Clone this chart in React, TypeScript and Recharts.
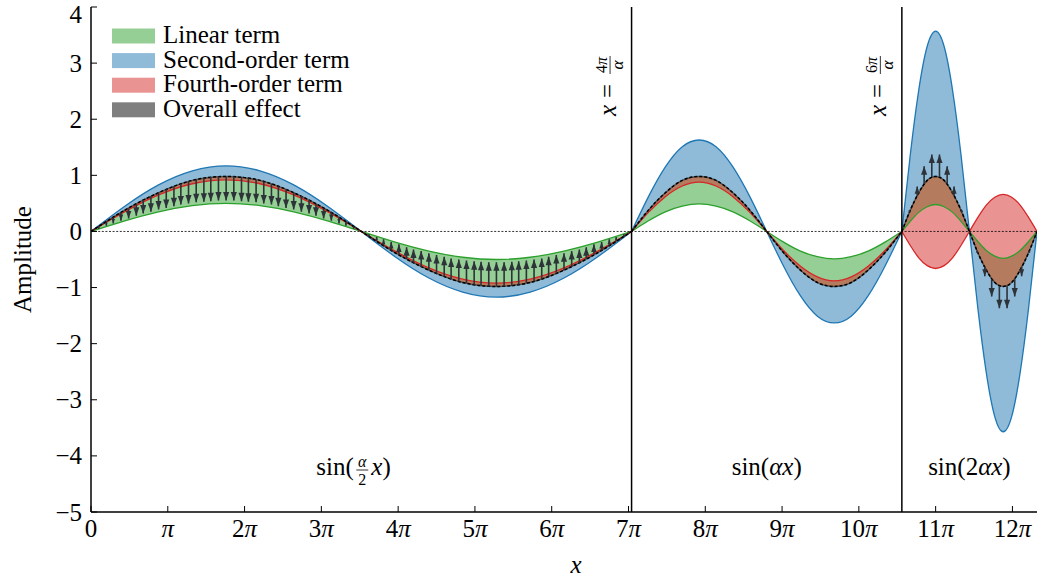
import React from 'react';
import {
  ComposedChart,
  Area,
  Line,
  XAxis,
  YAxis,
  ReferenceLine,
  ReferenceArea,
  Legend,
} from 'recharts';

const FONT = "'Liberation Serif', 'DejaVu Serif', serif";
const GREEN = '#2ca02c';
const BLUE = '#1f77b4';
const RED = '#d62728';
const ARROW = '#2d3339';

// all x values are in units of π
const xTicks = [0, 1, 2, 3, 4, 5, 6, 7, 8, 9, 10, 11, 12];
const yTicks = [-5, -4, -3, -2, -1, 0, 1, 2, 3, 4];
// 0, 4π/α, 6π/α, 7π/α
const segmentEdges = [0, 7.04, 10.56, 12.32];

// segment 1: sin(α/2 x)
const seg1X = [0, 0.44, 0.88, 1.32, 1.76, 2.2, 2.64, 3.08, 3.52, 3.96, 4.4, 4.84, 5.28, 5.72, 6.16, 6.6, 7.04];
const seg1Linear = [0, 0.19, 0.35, 0.46, 0.5, 0.46, 0.35, 0.19, 0, -0.19, -0.35, -0.46, -0.5, -0.46, -0.35, -0.19, 0];
const seg1Second = [0, 0.45, 0.83, 1.08, 1.17, 1.08, 0.83, 0.45, 0, -0.45, -0.83, -1.08, -1.17, -1.08, -0.83, -0.45, 0];
const seg1Fourth = [0, 0.35, 0.65, 0.85, 0.92, 0.85, 0.65, 0.35, 0, -0.35, -0.65, -0.85, -0.92, -0.85, -0.65, -0.35, 0];
const seg1Overall = [0, 0.38, 0.69, 0.91, 0.98, 0.91, 0.69, 0.38, 0, -0.38, -0.69, -0.91, -0.98, -0.91, -0.69, -0.38, 0];

// segment 2: sin(αx)
const seg2X = [7.04, 7.26, 7.48, 7.7, 7.92, 8.14, 8.36, 8.58, 8.8, 9.02, 9.24, 9.46, 9.68, 9.9, 10.12, 10.34, 10.56];
const seg2Linear = [0, 0.19, 0.35, 0.45, 0.49, 0.45, 0.35, 0.19, 0, -0.19, -0.35, -0.45, -0.49, -0.45, -0.35, -0.19, 0];
const seg2Second = [0, 0.62, 1.15, 1.51, 1.63, 1.51, 1.15, 0.62, 0, -0.62, -1.15, -1.51, -1.63, -1.51, -1.15, -0.62, 0];
const seg2Fourth = [0, 0.34, 0.62, 0.81, 0.88, 0.81, 0.62, 0.34, 0, -0.34, -0.62, -0.81, -0.88, -0.81, -0.62, -0.34, 0];
const seg2Overall = [0, 0.38, 0.69, 0.91, 0.98, 0.91, 0.69, 0.38, 0, -0.38, -0.69, -0.91, -0.98, -0.91, -0.69, -0.38, 0];

// segment 3: sin(2αx)
const seg3X = [10.56, 10.67, 10.78, 10.89, 11, 11.11, 11.22, 11.33, 11.44, 11.55, 11.66, 11.77, 11.88, 11.99, 12.1, 12.21, 12.32];
const seg3Linear = [0, 0.18, 0.34, 0.44, 0.48, 0.44, 0.34, 0.18, 0, -0.18, -0.34, -0.44, -0.48, -0.44, -0.34, -0.18, 0];
const seg3Second = [0, 1.37, 2.52, 3.3, 3.57, 3.3, 2.52, 1.37, 0, -1.37, -2.52, -3.3, -3.57, -3.3, -2.52, -1.37, 0];
const seg3Fourth = [0, -0.25, -0.47, -0.61, -0.66, -0.61, -0.47, -0.25, 0, 0.25, 0.47, 0.61, 0.66, 0.61, 0.47, 0.25, 0];
const seg3Overall = [0, 0.38, 0.69, 0.91, 0.98, 0.91, 0.69, 0.38, 0, -0.38, -0.69, -0.91, -0.98, -0.91, -0.69, -0.38, 0];

// arrows in segment 1 (pointing towards the linear term)
const seg1ArrowX = [
  0.1, 0.2, 0.29, 0.39, 0.49, 0.59, 0.68, 0.78, 0.88, 0.98, 1.08, 1.17, 1.27, 1.37, 1.47, 1.56, 1.66, 1.76,
  1.86, 1.96, 2.05, 2.15, 2.25, 2.35, 2.44, 2.54, 2.64, 2.74, 2.84, 2.93, 3.03, 3.13, 3.23, 3.32, 3.42,
  3.62, 3.72, 3.81, 3.91, 4.01, 4.11, 4.2, 4.3, 4.4, 4.5, 4.6, 4.69, 4.79, 4.89, 4.99, 5.08, 5.18, 5.28,
  5.38, 5.48, 5.57, 5.67, 5.77, 5.87, 5.96, 6.06, 6.16, 6.26, 6.36, 6.45, 6.55, 6.65, 6.75, 6.84, 6.94,
];
const seg1ArrowFrom = [
  0.09, 0.17, 0.25, 0.34, 0.41, 0.49, 0.56, 0.63, 0.69, 0.75, 0.8, 0.85, 0.89, 0.92, 0.95, 0.97, 0.98, 0.98,
  0.98, 0.97, 0.95, 0.92, 0.89, 0.85, 0.8, 0.75, 0.69, 0.63, 0.56, 0.49, 0.41, 0.34, 0.25, 0.17, 0.09,
  -0.09, -0.17, -0.25, -0.34, -0.41, -0.49, -0.56, -0.63, -0.69, -0.75, -0.8, -0.85, -0.89, -0.92, -0.95, -0.97, -0.98, -0.98,
  -0.98, -0.97, -0.95, -0.92, -0.89, -0.85, -0.8, -0.75, -0.69, -0.63, -0.56, -0.49, -0.41, -0.34, -0.25, -0.17, -0.09,
];
const seg1ArrowTo = [
  0.05, 0.1, 0.14, 0.19, 0.23, 0.28, 0.32, 0.35, 0.39, 0.42, 0.45, 0.48, 0.5, 0.52, 0.53, 0.54, 0.55, 0.55,
  0.55, 0.54, 0.53, 0.52, 0.5, 0.48, 0.45, 0.42, 0.39, 0.35, 0.32, 0.28, 0.23, 0.19, 0.14, 0.1, 0.05,
  -0.05, -0.1, -0.14, -0.19, -0.23, -0.28, -0.32, -0.35, -0.39, -0.42, -0.45, -0.48, -0.5, -0.52, -0.53, -0.54, -0.55, -0.55,
  -0.55, -0.54, -0.53, -0.52, -0.5, -0.48, -0.45, -0.42, -0.39, -0.35, -0.32, -0.28, -0.23, -0.19, -0.14, -0.1, -0.05,
];

// arrows in segment 3 (pointing outwards)
const seg3ArrowX = [10.66, 10.76, 10.85, 10.95, 11.05, 11.15, 11.24, 11.34, 11.54, 11.64, 11.73, 11.83, 11.93, 12.03, 12.12, 12.22];
const seg3ArrowFrom = [0.34, 0.63, 0.85, 0.97, 0.97, 0.85, 0.63, 0.34, -0.34, -0.63, -0.85, -0.97, -0.97, -0.85, -0.63, -0.34];
const seg3ArrowTo = [0.38, 0.8, 1.16, 1.37, 1.37, 1.16, 0.8, 0.38, -0.38, -0.8, -1.16, -1.37, -1.37, -1.16, -0.8, -0.38];

type Row = { x: number; lin: number; sec: number; four: number; all: number };

const buildRows = (xs: number[], lin: number[], sec: number[], four: number[], all: number[]): Row[] =>
  xs.map((x, i) => ({ x, lin: lin[i], sec: sec[i], four: four[i], all: all[i] }));

const segments = [
  buildRows(seg1X, seg1Linear, seg1Second, seg1Fourth, seg1Overall),
  buildRows(seg2X, seg2Linear, seg2Second, seg2Fourth, seg2Overall),
  buildRows(seg3X, seg3Linear, seg3Second, seg3Fourth, seg3Overall),
];

const arrowX = [...seg1ArrowX, ...seg3ArrowX];
const arrowFrom = [...seg1ArrowFrom, ...seg3ArrowFrom];
const arrowTo = [...seg1ArrowTo, ...seg3ArrowTo];

// each arrow: base point, tip point, then a gap so the shafts are not joined
const arrowRows = arrowX.flatMap((x, i) => [
  { x, y: arrowFrom[i], id: i, role: 'base' },
  { x, y: arrowTo[i], id: i, role: 'tip' },
  { x, y: null, id: i, role: 'gap' },
]);

const legendItems = [
  { name: 'Linear term', color: GREEN },
  { name: 'Second-order term', color: BLUE },
  { name: 'Fourth-order term', color: RED },
  { name: 'Overall effect', color: '#000' },
];

const baseY: Record<number, number> = {};

const ArrowHead = (props: any) => {
  const { cx, cy, payload, index } = props;
  const key = `ah-${index}`;
  if (cy == null || cx == null || !payload) return <g key={key} />;
  if (payload.role === 'base') {
    baseY[payload.id] = cy;
    return <g key={key} />;
  }
  if (payload.role !== 'tip' || baseY[payload.id] == null) return <g key={key} />;
  const b = baseY[payload.id];
  const len = Math.abs(cy - b);
  const dir = cy < b ? 1 : -1;
  const hl = Math.min(8.5, len * 0.75);
  const hw = Math.max(hl * 0.36, 1);
  const back = cy + dir * hl;
  return <path key={key} d={`M${cx},${cy}L${cx - hw},${back}L${cx + hw},${back}Z`} fill={ARROW} />;
};

const XTick = ({ x, y, payload }: any) => {
  const v = payload.value;
  return (
    <text x={x} y={y + 31} textAnchor="middle" fontFamily={FONT} fontSize={25} fill="#000">
      {v === 0 ? '0' : v === 1 ? '' : String(v)}
      {v !== 0 && <tspan fontStyle="italic">π</tspan>}
    </text>
  );
};

const YTick = ({ x, y, payload }: any) => {
  const v = payload.value;
  return (
    <text x={x - 15} y={Math.max(y + 8.5, 23)} textAnchor="end" fontFamily={FONT} fontSize={25} fill="#000">
      {v < 0 ? `\u2212${-v}` : String(v)}
    </text>
  );
};

const YLabel = ({ viewBox }: any) => {
  if (!viewBox) return null;
  const bx = viewBox.x;
  const cy = viewBox.y + viewBox.height / 2;
  return (
    <text
      x={bx}
      y={cy}
      transform={`rotate(-90, ${bx}, ${cy})`}
      textAnchor="middle"
      fontFamily={FONT}
      fontSize={25}
      fill="#000"
    >
      Amplitude
    </text>
  );
};

const XLabel = ({ viewBox }: any) => {
  if (!viewBox) return null;
  return (
    <text
      x={viewBox.x + viewBox.width / 2 + 12}
      y={viewBox.y + 61}
      textAnchor="middle"
      fontFamily={FONT}
      fontSize={25}
      fontStyle="italic"
      fill="#000"
    >
      x
    </text>
  );
};

// rotated "x = nπ/α" next to a vertical boundary
const VLabel = ({ viewBox, num }: any) => {
  if (!viewBox) return null;
  const bx = viewBox.x - 16;
  const by = viewBox.y + 109;
  return (
    <g transform={`translate(${bx},${by}) rotate(-90)`} fontFamily={FONT} fill="#000">
      <text x={0} y={0} fontSize={25} fontStyle="italic">x</text>
      <text x={18} y={0} fontSize={25}>=</text>
      <text x={51} y={-8.5} fontSize={16} textAnchor="middle">
        {num}
        <tspan fontStyle="italic">π</tspan>
      </text>
      <line x1={42} x2={60} y1={-5.5} y2={-5.5} stroke="#000" strokeWidth={0.8} />
      <text x={51} y={7} fontSize={17} fontStyle="italic" textAnchor="middle">α</text>
    </g>
  );
};

const SegLabel = ({ viewBox, kind }: any) => {
  if (!viewBox) return null;
  const cx = viewBox.x + viewBox.width / 2;
  const by = viewBox.y + viewBox.height - 37;
  if (kind === 'half') {
    const s = cx - 45;
    return (
      <g fontFamily={FONT} fill="#000">
        <text x={s} y={by} fontSize={25}>sin(</text>
        <text x={s + 46} y={by - 8} fontSize={16} fontStyle="italic" textAnchor="middle">α</text>
        <line x1={s + 40} x2={s + 52} y1={by - 5} y2={by - 5} stroke="#000" strokeWidth={0.8} />
        <text x={s + 46} y={by + 10} fontSize={16} textAnchor="middle">2</text>
        <text x={s + 55} y={by} fontSize={25}>
          <tspan fontStyle="italic">x</tspan>)
        </text>
      </g>
    );
  }
  return (
    <text x={cx} y={by} textAnchor="middle" fontFamily={FONT} fontSize={25} fill="#000">
      sin({kind === 'two' ? '2' : ''}
      <tspan fontStyle="italic">αx</tspan>)
    </text>
  );
};

const LegendBox = () => (
  <svg width={280} height={112} style={{ display: 'block' }}>
    {legendItems.map((it, i) => (
      <g key={it.name} transform={`translate(0, ${10 + i * 24.6})`}>
        <rect x={0} y={4.5} width={43} height={15} fill={it.color} fillOpacity={0.5} />
        <text x={51} y={19} fontFamily={FONT} fontSize={25} fill="#000">
          {it.name}
        </text>
      </g>
    ))}
  </svg>
);

export default function App() {
  return (
    <div style={{ width: 1039, height: 581, position: 'relative', background: '#fff' }}>
      <style>{'body{margin:0}'}</style>
      <ComposedChart width={1039} height={581} margin={{ top: 7, right: 2, bottom: 39, left: 31 }}>
        <XAxis
          dataKey="x"
          type="number"
          domain={[segmentEdges[0], segmentEdges[3]]}
          ticks={xTicks}
          interval={0}
          allowDataOverflow
          tickSize={-6}
          tickMargin={0}
          tick={<XTick />}
          axisLine={{ stroke: '#000', strokeWidth: 1.5 }}
          tickLine={{ stroke: '#000', strokeWidth: 1 }}
          label={<XLabel />}
        />
        <XAxis
          xAxisId="top"
          orientation="top"
          type="number"
          domain={[segmentEdges[0], segmentEdges[3]]}
          ticks={xTicks}
          interval={0}
          allowDataOverflow
          height={0}
          tickSize={-6}
          tick={false}
          axisLine={{ stroke: '#000', strokeWidth: 1.5 }}
          tickLine={{ stroke: '#000', strokeWidth: 1 }}
        />
        <YAxis
          type="number"
          domain={[-5, 4]}
          ticks={yTicks}
          interval={0}
          allowDataOverflow
          width={60}
          tickSize={-6}
          tickMargin={0}
          tick={<YTick />}
          axisLine={{ stroke: '#000', strokeWidth: 1.5 }}
          tickLine={{ stroke: '#000', strokeWidth: 1 }}
          label={<YLabel />}
        />
        <YAxis
          yAxisId="right"
          orientation="right"
          type="number"
          domain={[-5, 4]}
          ticks={yTicks}
          interval={0}
          allowDataOverflow
          width={0}
          tickSize={-6}
          tick={false}
          axisLine={{ stroke: '#000', strokeWidth: 1.5 }}
          tickLine={{ stroke: '#000', strokeWidth: 1 }}
        />

        {segments.map((rows, s) => (
          <Area
            key={`g${s}`}
            data={rows}
            dataKey={(d: Row) => [d.lin, d.all]}
            type="natural"
            fill={GREEN}
            fillOpacity={0.5}
            stroke="none"
            isAnimationActive={false}
          />
        ))}
        {segments.map((rows, s) => (
          <Area
            key={`b${s}`}
            data={rows}
            dataKey={(d: Row) => [d.all, d.sec]}
            type="natural"
            fill={BLUE}
            fillOpacity={0.5}
            stroke="none"
            isAnimationActive={false}
          />
        ))}
        {segments.map((rows, s) => (
          <Area
            key={`r${s}`}
            data={rows}
            dataKey={(d: Row) => [d.four, d.all]}
            type="natural"
            fill={RED}
            fillOpacity={0.5}
            stroke="none"
            isAnimationActive={false}
          />
        ))}

        {segments.map((rows, s) => (
          <Line key={`lg${s}`} data={rows} dataKey="lin" type="natural" stroke={GREEN} strokeWidth={1.3} dot={false} activeDot={false} isAnimationActive={false} />
        ))}
        {segments.map((rows, s) => (
          <Line key={`lb${s}`} data={rows} dataKey="sec" type="natural" stroke={BLUE} strokeWidth={1.3} dot={false} activeDot={false} isAnimationActive={false} />
        ))}
        {segments.map((rows, s) => (
          <Line key={`lr${s}`} data={rows} dataKey="four" type="natural" stroke={RED} strokeWidth={1.3} dot={false} activeDot={false} isAnimationActive={false} />
        ))}
        {segments.map((rows, s) => (
          <Line key={`lo${s}`} data={rows} dataKey="all" type="natural" stroke="#000" strokeOpacity={0.5} strokeWidth={1.4} dot={false} activeDot={false} isAnimationActive={false} />
        ))}
        {segments.map((rows, s) => (
          <Line key={`ld${s}`} data={rows} dataKey="all" type="natural" stroke="#000" strokeWidth={1.5} strokeDasharray="3 2" dot={false} activeDot={false} isAnimationActive={false} />
        ))}

        <Line
          data={arrowRows}
          dataKey="y"
          type="linear"
          stroke={ARROW}
          strokeWidth={1.6}
          connectNulls={false}
          dot={ArrowHead}
          activeDot={false}
          isAnimationActive={false}
        />

        <ReferenceLine y={0} stroke="#000" strokeWidth={0.8} strokeDasharray="2 1.6" />
        <ReferenceLine x={segmentEdges[1]} stroke="#000" strokeWidth={1.5} label={<VLabel num="4" />} />
        <ReferenceLine x={segmentEdges[2]} stroke="#000" strokeWidth={1.5} label={<VLabel num="6" />} />

        <ReferenceArea x1={segmentEdges[0]} x2={segmentEdges[1]} fill="none" fillOpacity={0} stroke="none" label={<SegLabel kind="half" />} />
        <ReferenceArea x1={segmentEdges[1]} x2={segmentEdges[2]} fill="none" fillOpacity={0} stroke="none" label={<SegLabel kind="one" />} />
        <ReferenceArea x1={segmentEdges[2]} x2={segmentEdges[3]} fill="none" fillOpacity={0} stroke="none" label={<SegLabel kind="two" />} />

        <Legend
          layout="vertical"
          align="center"
          verticalAlign="middle"
          content={() => <LegendBox />}
          wrapperStyle={{ left: 112, top: 14, width: 280, height: 112 }}
        />
      </ComposedChart>
    </div>
  );
}
